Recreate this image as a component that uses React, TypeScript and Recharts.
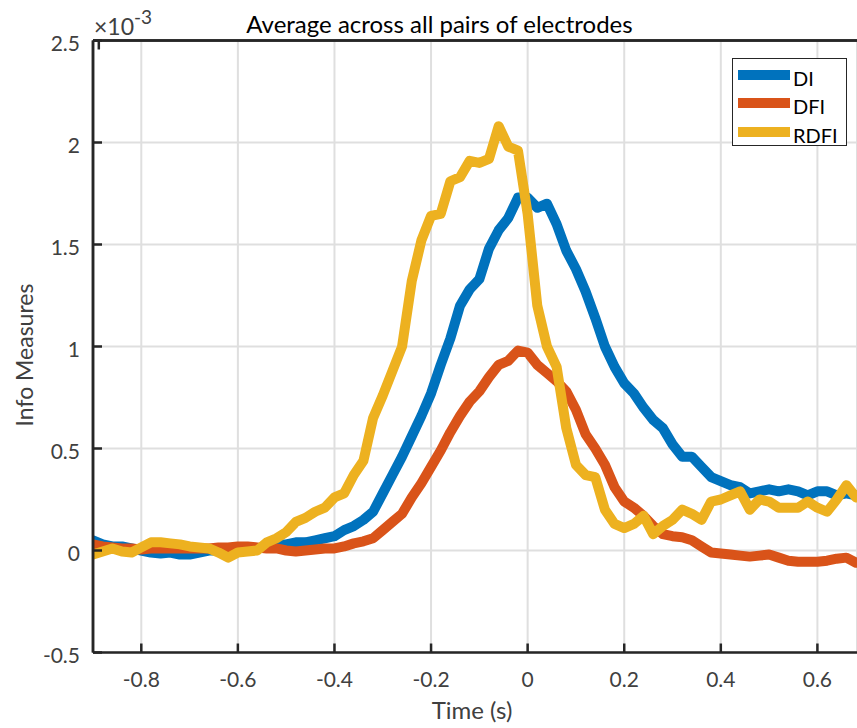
import React from 'react';
import { LineChart, Line, XAxis, YAxis, CartesianGrid, ReferenceLine } from 'recharts';

// time axis (s), values in units of 1e-3
const time = [
  -0.9, -0.88, -0.86, -0.84, -0.82, -0.8, -0.78, -0.76, -0.74, -0.72,
  -0.7, -0.68, -0.66, -0.64, -0.62, -0.6, -0.58, -0.56, -0.54, -0.52,
  -0.5, -0.48, -0.46, -0.44, -0.42, -0.4, -0.38, -0.36, -0.34, -0.32,
  -0.3, -0.28, -0.26, -0.24, -0.22, -0.2, -0.18, -0.16, -0.14, -0.12,
  -0.1, -0.08, -0.06, -0.04, -0.02, 0, 0.02, 0.04, 0.06, 0.08,
  0.1, 0.12, 0.14, 0.16, 0.18, 0.2, 0.22, 0.24, 0.26, 0.28,
  0.3, 0.32, 0.34, 0.36, 0.38, 0.4, 0.42, 0.44, 0.46, 0.48,
  0.5, 0.52, 0.54, 0.56, 0.58, 0.6, 0.62, 0.64, 0.66, 0.68,
];

const di = [
  0.05, 0.03, 0.02, 0.02, 0.01, 0.0, -0.01, -0.015, -0.01, -0.02,
  -0.02, -0.01, 0.0, 0.0, 0.01, 0.01, 0.01, 0.01, 0.02, 0.03,
  0.03, 0.04, 0.04, 0.05, 0.06, 0.07, 0.1, 0.12, 0.15, 0.19,
  0.28, 0.37, 0.46, 0.56, 0.66, 0.77, 0.91, 1.04, 1.2, 1.28,
  1.33, 1.48, 1.57, 1.63, 1.73, 1.73, 1.68, 1.7, 1.6, 1.47,
  1.38, 1.27, 1.14, 1.0, 0.9, 0.82, 0.77, 0.7, 0.64, 0.6,
  0.52, 0.46, 0.46, 0.41, 0.36, 0.34, 0.32, 0.31, 0.28, 0.29,
  0.3, 0.29, 0.3, 0.29, 0.27, 0.29, 0.29, 0.27, 0.28, 0.27,
];

const dfi = [
  0.03, 0.02, 0.015, 0.01, 0.01, 0.005, 0.01, 0.01, 0.01, 0.01,
  0.01, 0.01, 0.01, 0.015, 0.015, 0.02, 0.02, 0.015, 0.01, 0.01,
  0.0, -0.005, 0.0, 0.005, 0.01, 0.01, 0.02, 0.035, 0.045, 0.06,
  0.1, 0.14, 0.18, 0.26, 0.33, 0.41, 0.49, 0.58, 0.66, 0.73,
  0.78, 0.85, 0.91, 0.93, 0.98, 0.97, 0.91, 0.87, 0.83, 0.78,
  0.69, 0.57, 0.5, 0.42, 0.31, 0.24, 0.21, 0.17, 0.12, 0.08,
  0.07, 0.065, 0.05, 0.02, -0.01, -0.015, -0.02, -0.025, -0.03, -0.025,
  -0.02, -0.035, -0.05, -0.055, -0.055, -0.055, -0.05, -0.04, -0.035, -0.06,
];

const rdfi = [
  -0.02, -0.005, 0.01, -0.005, -0.01, 0.015, 0.04, 0.04, 0.035, 0.03,
  0.02, 0.015, 0.01, -0.01, -0.035, -0.01, -0.005, 0.0, 0.04, 0.06,
  0.09, 0.14, 0.16, 0.19, 0.21, 0.26, 0.28, 0.37, 0.44, 0.65,
  0.76, 0.88, 1.0, 1.32, 1.52, 1.64, 1.65, 1.81, 1.83, 1.91,
  1.9, 1.92, 2.08, 1.98, 1.96, 1.65, 1.2, 1.0, 0.9, 0.6,
  0.42, 0.37, 0.36, 0.2, 0.13, 0.11, 0.13, 0.17, 0.08, 0.12,
  0.15, 0.2, 0.18, 0.15, 0.24, 0.25, 0.27, 0.29, 0.2, 0.25,
  0.24, 0.21, 0.21, 0.21, 0.24, 0.21, 0.19, 0.25, 0.32, 0.26,
];

const xTicks = [-0.8, -0.6, -0.4, -0.2, 0, 0.2, 0.4, 0.6];
const yTicks = [-0.5, 0, 0.5, 1, 1.5, 2, 2.5];
const xDomain = [-0.9, 0.682];
const yDomain = [-0.5, 2.5];

const series = [
  { key: 'DI', color: '#0072BD' },
  { key: 'DFI', color: '#D95319' },
  { key: 'RDFI', color: '#EDB120' },
];

const data = time.map((t, i) => ({ t, DI: di[i], DFI: dfi[i], RDFI: rdfi[i] }));

const FONT = 'Lato, "Noto Sans", sans-serif';
const AXIS = '#262626';
const LABEL = '#404040';

const fmtX = (v: number) => (v === 0 ? '0' : v.toFixed(1));

const BottomTick = (props: any) => {
  const { x, y, payload } = props;
  return (
    <g>
      <path d={`M${x},${y}V${y - 9}`} stroke={AXIS} strokeWidth={2.5} fill="none" />
      <text x={x} y={y + 34} textAnchor="middle" fontSize={21} fontFamily={FONT} fill={LABEL}>
        {fmtX(payload.value)}
      </text>
    </g>
  );
};

const TopTick = (props: any) => {
  const { x, y } = props;
  return <path d={`M${x},${y}V${y + 9}`} stroke={AXIS} strokeWidth={2.5} fill="none" />;
};

const LeftTick = (props: any) => {
  const { x, y, payload } = props;
  return (
    <g>
      <path d={`M${x + 13},${y}H${x + 22}`} stroke={AXIS} strokeWidth={2.5} fill="none" />
      <text x={x} y={y + 10} textAnchor="end" fontSize={21} fontFamily={FONT} fill={LABEL}>
        {String(payload.value)}
      </text>
    </g>
  );
};

const LegendBox = () => (
  <div
    style={{
      position: 'absolute',
      left: 732,
      top: 58,
      width: 113,
      height: 86,
      border: `1.5px solid ${AXIS}`,
      background: '#fff',
      fontFamily: FONT,
      fontSize: 20,
      color: '#000',
    }}
  >
    {series.map((s, i) => (
      <div key={s.key} style={{ position: 'absolute', left: 5, top: 10 + i * 28.3, height: 12, display: 'flex', alignItems: 'center' }}>
        <div style={{ width: 52, height: 10, background: s.color }} />
        <span style={{ marginLeft: 3, lineHeight: '20px', position: 'relative', top: 3 }}>{s.key}</span>
      </div>
    ))}
  </div>
);

export default function App() {
  return (
    <div style={{ position: 'absolute', left: 0, top: 0, width: 857, height: 728, background: '#fff' }}>
      <LineChart width={857} height={728} data={data} margin={{ top: 39.5, right: 0, bottom: 0, left: 0 }}>
        <CartesianGrid stroke="#dfdfdf" strokeWidth={2} />
        <XAxis
          dataKey="t"
          type="number"
          domain={xDomain}
          allowDataOverflow
          ticks={xTicks}
          height={75.5}
          tickSize={0}
          tickMargin={0}
          tickLine={false}
          tick={<BottomTick />}
          axisLine={{ stroke: AXIS, strokeWidth: 2.5 }}
        />
        <XAxis
          xAxisId="top"
          orientation="top"
          type="number"
          domain={xDomain}
          allowDataOverflow
          ticks={xTicks}
          height={1}
          tickSize={0}
          tickMargin={0}
          tickLine={false}
          tick={<TopTick />}
          axisLine={{ stroke: AXIS, strokeWidth: 2.5 }}
        />
        <YAxis
          type="number"
          domain={yDomain}
          allowDataOverflow
          ticks={yTicks}
          width={93}
          tickSize={0}
          tickMargin={13}
          tickLine={false}
          tick={<LeftTick />}
          axisLine={{ stroke: AXIS, strokeWidth: 2.5 }}
        />
        {series.map((s) => (
          <Line
            key={s.key}
            dataKey={s.key}
            type="linear"
            stroke={s.color}
            strokeWidth={10}
            strokeLinejoin="round"
            strokeLinecap="round"
            dot={false}
            activeDot={false}
            isAnimationActive={false}
          />
        ))}
        <ReferenceLine y={yDomain[1]} stroke={AXIS} strokeWidth={2.5} ifOverflow="visible" />
        <ReferenceLine x={xDomain[0]} stroke={AXIS} strokeWidth={2.5} ifOverflow="visible" />
      </LineChart>
      <svg width={857} height={728} style={{ position: 'absolute', left: 0, top: 0, pointerEvents: 'none' }}>
        <text x={439.5} y={33} textAnchor="middle" fontSize={24} fontFamily={FONT} fill="#000">
          Average across all pairs of electrodes
        </text>
        <text x={94} y={35} fontSize={23} fontFamily={FONT} fill={LABEL}>
          ×10<tspan dy={-11} fontSize={19}>-3</tspan>
        </text>
        <text x={33} y={355} transform="rotate(-90 33 355)" textAnchor="middle" fontSize={23} fontFamily={FONT} fill={LABEL}>
          Info Measures
        </text>
        <text x={472} y={719} textAnchor="middle" fontSize={24} fontFamily={FONT} fill={LABEL}>
          Time (s)
        </text>
      </svg>
      <LegendBox />
    </div>
  );
}
